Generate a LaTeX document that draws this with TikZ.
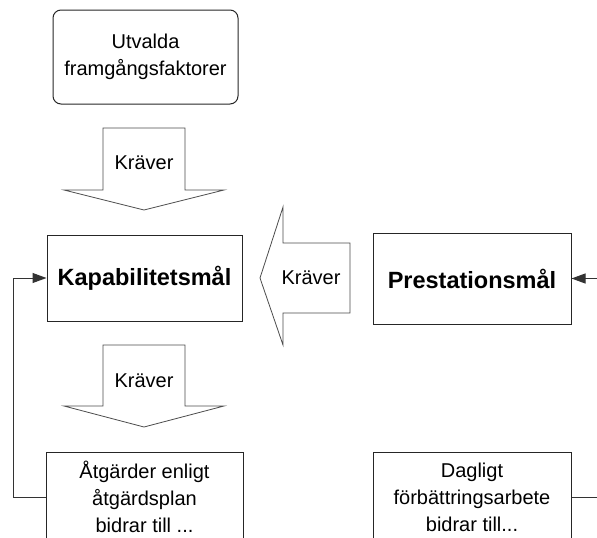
\documentclass[tikz,border=0pt]{standalone}
\usepackage{fontspec}
\setmainfont{Liberation Sans}
\usetikzlibrary{arrows.meta, calc}

\begin{document}
\begin{tikzpicture}[
    x=1pt, y=-1pt,
    box/.style={
        draw=black!85,
        line width=1pt,
        inner sep=0pt,
        align=center,
        font=\fontsize{20}{27}\selectfont
    },
    goal/.style={box, font=\fontsize{23.5}{27}\selectfont\bfseries},
    bigarrow/.style={draw=black!70, line width=0.8pt, fill=white},
    arrowtext/.style={font=\fontsize{20}{24}\selectfont, inner sep=0pt},
    link/.style={draw=black!80, line width=1pt},
    tip/.style={-{Triangle[length=14pt, width=10pt]}}
]

\clip (0,0) rectangle (597,538);

% rutorna
\node[box, rounded corners=8pt, minimum width=185pt, minimum height=94pt] (faktorer) at (145.5,57) {Utvalda\\framgångsfaktorer};
\node[goal, minimum width=195pt, minimum height=86pt] (kap) at (144.5,278) {Kapabilitetsmål};
\node[goal, minimum width=198pt, minimum height=91pt] (pres) at (472,278.5) {Prestationsmål};
\node[box, minimum width=197pt, minimum height=90pt] (atg) at (144.5,497) {Åtgärder enligt\\åtgärdsplan\\bidrar till ...};
\node[box, minimum width=198pt, minimum height=90pt] (dag) at (472,497) {Dagligt\\förbättringsarbete\\bidrar till...};

% blockpilar
\draw[bigarrow] (103,128) -- (185,128) -- (185,190) -- (224,190) -- (144,210) -- (64,190) -- (103,190) -- cycle;
\node[arrowtext] (kraver1) at (144,163) {Kräver};

\draw[bigarrow] (103,345) -- (185,345) -- (185,406) -- (224,406) -- (144,427) -- (64,406) -- (103,406) -- cycle;
\node[arrowtext] (kraver2) at (144,381) {Kräver};

\draw[bigarrow] (350,243) -- (283,243) -- (283,207) -- (260,278) -- (283,345) -- (283,313) -- (350,313) -- cycle;
\node[arrowtext] (kraver3) at (311,278) {Kräver};

% kopplingar
\draw[link, tip] (atg.west) -- ++(-32,0) |- (kap.west);
\coordinate (ut) at ($(dag.east)+(40,0)$);
\draw[link, tip] (dag.east) -- (ut) |- (pres.east);

\end{tikzpicture}
\end{document}
